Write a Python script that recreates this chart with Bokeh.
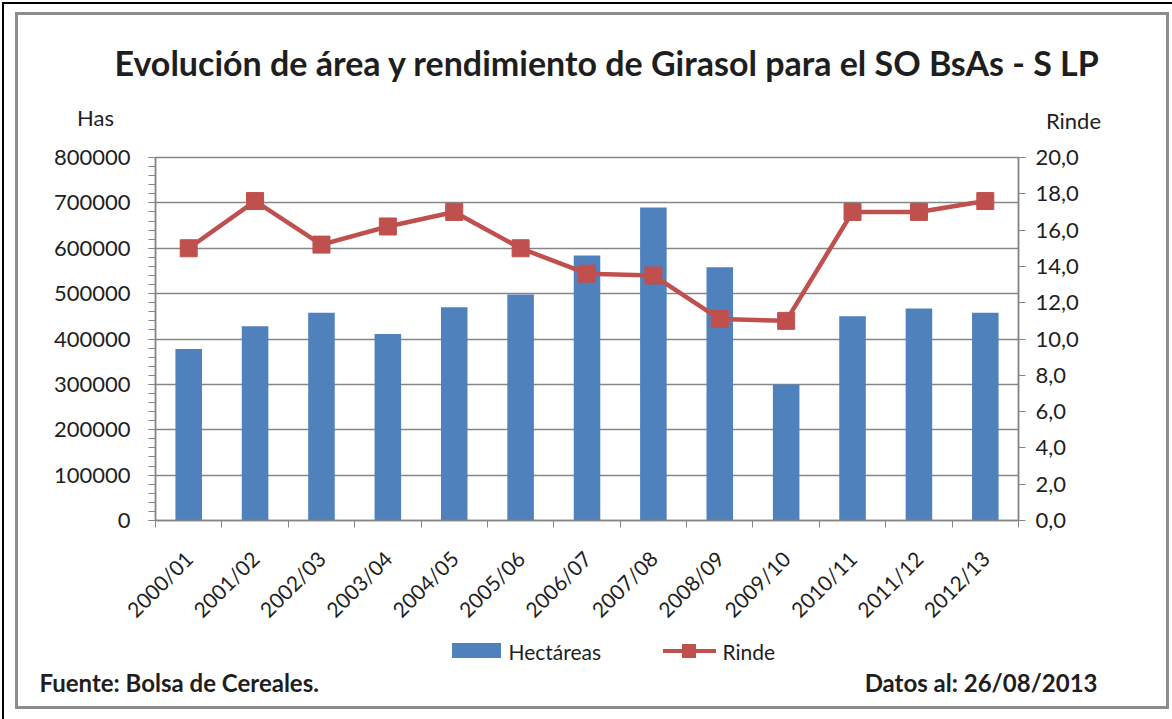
import math
from bokeh.plotting import figure
from bokeh.models import Range1d, LinearAxis, FixedTicker, Label
from bokeh.embed import file_html
from bokeh.resources import INLINE

# ---------------- data ----------------
categories = ["2000/01", "2001/02", "2002/03", "2003/04", "2004/05", "2005/06", "2006/07",
              "2007/08", "2008/09", "2009/10", "2010/11", "2011/12", "2012/13"]
hectareas = [378000, 428000, 458000, 411000, 470000, 498000, 584000,
             690000, 558000, 300000, 450000, 467000, 458000]
rinde = [15.0, 17.6, 15.2, 16.2, 17.0, 15.0, 13.6, 13.5, 11.1, 11.0, 17.0, 17.0, 17.6]
left_ticks = [0, 100000, 200000, 300000, 400000, 500000, 600000, 700000, 800000]
left_tick_labels = ["0", "100000", "200000", "300000", "400000", "500000", "600000", "700000", "800000"]
right_ticks = [0, 2, 4, 6, 8, 10, 12, 14, 16, 18, 20]
right_tick_labels = ["0,0", "2,0", "4,0", "6,0", "8,0", "10,0", "12,0", "14,0", "16,0", "18,0", "20,0"]
series_names = ["Hectáreas", "Rinde"]
title_text = "Evolución de área y rendimiento de Girasol para el SO BsAs - S LP"
left_axis_title = "Has"
right_axis_title = "Rinde"
source_text = "Fuente: Bolsa de Cereales."
date_text = "Datos al: 26/08/2013"

FONT = "Lato"
GRAY = "#868686"
TXT = "#1e1e1e"
BLUE = "#4F81BD"
RED = "#C0504D"

W, H = 1172, 719
FL, FR, FT, FB = 155, 1018, 157, 520   # frame edges in canvas pixels
NCAT = len(categories)
YMAX = 800000

xs = [i + 0.5 for i in range(NCAT)]

# canvas pixel -> plot coordinates, used only to place annotation texts
def dx(px):
    return (px - FL) / (FR - FL) * NCAT

def dy(py):
    return (FB - py) / (FB - FT) * YMAX

# page frame and legend swatches drawn as CSS background layers (x, y, w, h, colour)
deco = [(2, 2, 1170, 2, "#000000"), (2, 2, 2, 717, "#000000"),
        (15, 12, 1154, 3, "#8c8c8c"), (15, 12, 3, 697, "#8c8c8c"),
        (1166, 12, 3, 697, "#8c8c8c"), (15, 706, 1154, 3, "#8c8c8c"),
        (452, 643, 49, 15, BLUE),
        (682, 644, 14, 14, RED), (663, 649, 53, 4, RED)]
bg = ", ".join(f"linear-gradient({c},{c}) {x}px {y}px / {w}px {h}px no-repeat"
               for x, y, w, h, c in deco) + ", #ffffff"

p = figure(width=W, height=H, output_backend="svg", toolbar_location=None,
           x_range=Range1d(0, NCAT), y_range=Range1d(0, YMAX),
           min_border_left=FL, min_border_right=W - FR, min_border_top=FT,
           min_border_bottom=H - FB, styles={"background": bg})
p.outline_line_color = GRAY
p.outline_line_width = 1.5
p.background_fill_color = "white"
p.border_fill_color = None

# left axis
yax = p.yaxis[0]
yax.ticker = FixedTicker(ticks=left_ticks, minor_ticks=list(range(0, YMAX + 1, 20000)))
yax.major_label_overrides = dict(zip(left_ticks, left_tick_labels))
yax.axis_line_color = GRAY
yax.axis_line_width = 1.5
yax.major_tick_line_color = GRAY
yax.minor_tick_line_color = GRAY
yax.major_tick_in = 0
yax.minor_tick_in = 0
yax.major_tick_out = 7
yax.minor_tick_out = 7
yax.major_label_standoff = 18
yax.major_label_text_font = FONT
yax.major_label_text_font_size = "22px"
yax.major_label_text_color = TXT

p.ygrid[0].ticker = yax.ticker
p.ygrid[0].grid_line_color = GRAY
p.ygrid[0].grid_line_width = 1.5
p.xgrid.visible = False

# right axis
p.extra_y_ranges = {"rinde": Range1d(0, 20)}
rax = LinearAxis(y_range_name="rinde", ticker=FixedTicker(ticks=right_ticks, minor_ticks=[]))
rax.major_label_overrides = dict(zip(right_ticks, right_tick_labels))
rax.axis_line_color = GRAY
rax.axis_line_width = 1.5
rax.major_tick_line_color = GRAY
rax.minor_tick_line_color = None
rax.major_tick_in = 0
rax.major_tick_out = 7
rax.major_label_standoff = 10
rax.major_label_text_font = FONT
rax.major_label_text_font_size = "22px"
rax.major_label_text_color = TXT
p.add_layout(rax, "right")

# bottom axis: labels at category centres, ticks at category boundaries
xax = p.xaxis[0]
xax.ticker = FixedTicker(ticks=xs, minor_ticks=list(range(NCAT + 1)))
xax.major_label_overrides = dict(zip(xs, categories))
xax.major_label_orientation = math.pi / 4
xax.axis_line_color = GRAY
xax.axis_line_width = 1.5
xax.major_tick_line_color = None
xax.major_tick_in = 0
xax.major_tick_out = 0
xax.minor_tick_line_color = GRAY
xax.minor_tick_in = 0
xax.minor_tick_out = 7
xax.major_label_standoff = 27
xax.major_label_text_font = FONT
xax.major_label_text_font_size = "21px"
xax.major_label_text_color = TXT

# glyphs
p.vbar(x=xs, top=hectareas, width=0.4, fill_color=BLUE, line_color=None)
p.line(xs, rinde, y_range_name="rinde", line_color=RED, line_width=4.5)
p.scatter(xs, rinde, y_range_name="rinde", marker="square", size=17,
          fill_color=RED, line_color=RED)

# texts outside the frame: labels in side panels (not clipped), placed in plot coordinates
def lab(text, px, py, size, side, align="center", bold=False):
    p.add_layout(Label(text=text, x=dx(px), y=dy(py),
                       text_font=FONT, text_font_size=size, text_align=align,
                       text_baseline="middle", text_color=TXT,
                       text_font_style="bold" if bold else "normal"), side)

lab(title_text, 607, 62, "34px", "above", bold=True)
lab(series_names[0], 508, 651, "21px", "above", align="left")
lab(series_names[1], 722, 651, "21px", "above", align="left")
lab(left_axis_title, 95, 117, "22px", "left")
lab(right_axis_title, 1073, 120, "22px", "right")
lab(source_text, 39, 682, "24px", "below", align="left", bold=True)
lab(date_text, 1097, 682, "24px", "below", align="right", bold=True)

open("out.html", "w").write(file_html(p, INLINE))
